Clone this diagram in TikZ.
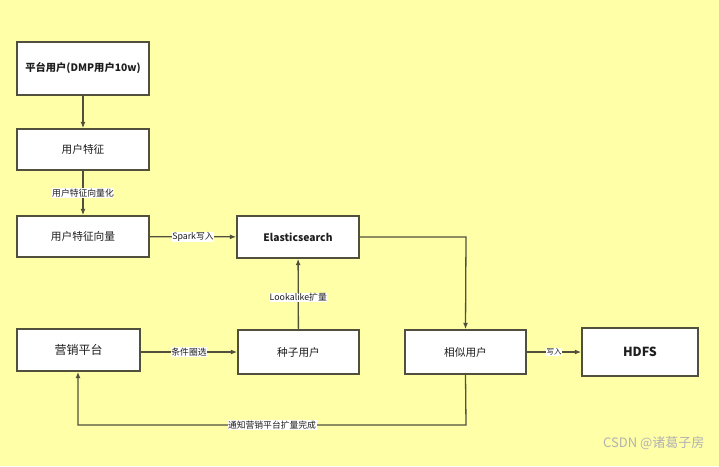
\documentclass[tikz,border=0pt]{standalone}
\usepackage{fontspec}
\setmainfont{Noto Sans CJK SC}
\usetikzlibrary{arrows.meta}
\definecolor{bgc}{RGB}{255,255,168}
\definecolor{linec}{RGB}{80,80,60}
\definecolor{txtc}{RGB}{30,30,30}
\tikzset{
  box/.style={draw=linec, line width=1.4pt, fill=white, inner sep=0pt, text=txtc, font=\fontsize{10.7}{12}\selectfont},
  conn/.style={draw=linec, line width=1.3pt, -{Latex[length=6.5pt,width=5pt]}},
  elabel/.style={fill=white, inner sep=0.5pt, text=txtc, font=\fontsize{8.8}{10}\selectfont}
}
\begin{document}
\begin{tikzpicture}[x=1pt,y=-1pt]
\fill[bgc] (0,0) rectangle (719,466);
\useasboundingbox (0,0) rectangle (719,466);
\node[box, minimum width=132pt, minimum height=53pt, font=\fontsize{10.3}{12}\selectfont\bfseries] (b1) at (83,68.5) {平台用户(DMP用户10w)};
\node[box, minimum width=132pt, minimum height=41pt] (b2) at (83,149.5) {用户特征};
\node[box, minimum width=132pt, minimum height=41pt] (b3) at (83,236.5) {用户特征向量};
\node[box, minimum width=122pt, minimum height=42pt, font=\fontsize{10.3}{12}\selectfont\bfseries] (es) at (298,237) {Elasticsearch};
\node[box, minimum width=123pt, minimum height=42pt, font=\fontsize{12}{14}\selectfont] (mk) at (78.5,350) {营销平台};
\node[box, minimum width=121pt, minimum height=44pt] (seed) at (298.5,352) {种子用户};
\node[box, minimum width=121pt, minimum height=44pt] (sim) at (465.5,352) {相似用户};
\node[box, minimum width=116pt, minimum height=48pt, font=\fontsize{12.5}{14}\selectfont\bfseries] (hdfs) at (640,352) {HDFS};
\coordinate (c1) at (466,237);
\coordinate (c2) at (466,425);
\coordinate (c3) at (78,425);
\draw[conn] (b1) -- (b2);
\draw[conn] (b2) -- node[elabel, pos=0.5] {用户特征向量化} (b3);
\draw[conn] (b3) -- node[elabel, pos=0.5] {Spark写入} (es);
\draw[conn] (seed) -- node[elabel, pos=0.45] {Lookalike扩量} (es);
\draw[conn] (es.east) -- (c1) -- (sim.north);
\draw[conn] (mk.east |- seed.west) -- node[elabel, pos=0.5] {条件圈选} (seed.west);
\draw[conn] (sim) -- node[elabel, pos=0.5, font=\fontsize{7.5}{9}\selectfont] {写入} (hdfs);
\draw[conn] (sim.south) -- (c2) -- node[elabel, pos=0.5] {通知营销平台扩量完成} (c3) -- (mk.south -| c3);
\node[text=black!30, font=\fontsize{13}{15}\selectfont, anchor=east] (wm) at (708,443) {CSDN @诸葛子房};
\end{tikzpicture}
\end{document}
